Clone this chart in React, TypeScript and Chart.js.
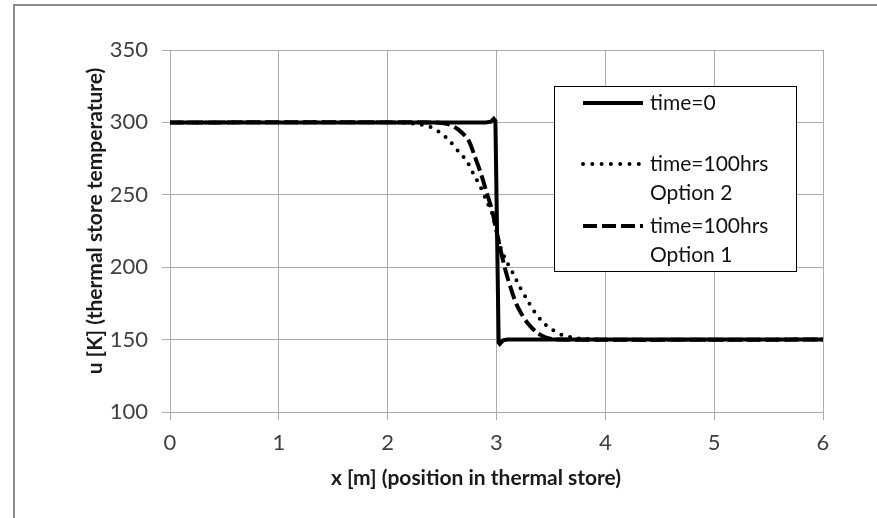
import React, { useEffect, useRef } from "react";
import { Chart, registerables } from "chart.js";

Chart.register(...registerables);

// time = 0 (initial step profile)
const X_T0 = [0, 2.9, 2.95, 2.975, 2.99, 3.02, 3.03, 3.06, 3.1, 6];
const U_T0 = [300, 300, 300.5, 302.5, 301, 148, 147, 149.5, 150, 150];

// time = 100 hrs, Option 2 (dotted)
const X_OPT2 = [0, 2.0, 2.2, 2.3, 2.39, 2.48, 2.56, 2.65, 2.73, 2.79, 2.85, 2.91, 2.96, 3.0, 3.04, 3.09, 3.15, 3.21, 3.27, 3.35, 3.44, 3.52, 3.61, 3.7, 3.8, 4.0, 6];
const U_OPT2 = [300, 300, 299.5, 298.5, 297, 293, 288, 280, 273, 264, 256, 245.6, 237, 225, 213, 204.4, 196, 187, 179, 169, 161, 156.5, 153, 151.5, 150.5, 150, 150];

// time = 100 hrs, Option 1 (dashed)
const X_OPT1 = [0, 2.4, 2.5, 2.57, 2.65, 2.74, 2.8, 2.865, 2.91, 2.957, 3.0, 3.04, 3.08, 3.125, 3.19, 3.28, 3.37, 3.45, 3.55, 6];
const U_OPT1 = [300, 300, 299.5, 298.4, 295, 288, 276.6, 262.8, 251.3, 240, 225, 211, 198.6, 187, 173.3, 162, 155, 151.5, 150, 150];

const X_TICKS = [0, 1, 2, 3, 4, 5, 6];
const Y_TICKS = [100, 150, 200, 250, 300, 350];

const LEGEND_LINES = [
  ["time=0"],
  ["time=100hrs", "Option 2"],
  ["time=100hrs", "Option 1"],
];

const X_TITLE = "x [m] (position in thermal store)";
const Y_TITLE = "u [K] (thermal store temperature)";

const FONT = "Lato, 'Liberation Sans', sans-serif";

const toPts = (xs: number[], ys: number[]) => xs.map((x, i) => ({ x, y: ys[i] }));

const decor = {
  id: "decor",
  afterDraw(chart: any) {
    const ctx = chart.ctx as CanvasRenderingContext2D;
    const ca = chart.chartArea;
    ctx.save();
    // axis titles
    ctx.fillStyle = "#1a1a1a";
    ctx.font = `bold 21px ${FONT}`;
    ctx.textAlign = "center";
    ctx.textBaseline = "middle";
    ctx.fillText(X_TITLE, ca.left + 306, ca.bottom + 66);
    ctx.save();
    ctx.translate(ca.left - 75, ca.top + 171);
    ctx.rotate(-Math.PI / 2);
    ctx.fillText(Y_TITLE, 0, 0);
    ctx.restore();

    // legend box
    const bx = ca.left + 384;
    const by = ca.top + 36;
    const bw = 242;
    const bh = 185;
    ctx.fillStyle = "#ffffff";
    ctx.fillRect(bx, by, bw, bh);
    ctx.strokeStyle = "#000000";
    ctx.lineWidth = 1;
    ctx.strokeRect(bx + 0.5, by + 0.5, bw, bh);

    const rows = [by + 17, by + 78, by + 140];
    const styles = [
      { dash: [] as number[], cap: "butt" as CanvasLineCap },
      { dash: [0, 9.3], cap: "round" as CanvasLineCap },
      { dash: [14, 5], cap: "butt" as CanvasLineCap },
    ];
    ctx.font = `21px ${FONT}`;
    ctx.textAlign = "left";
    ctx.textBaseline = "middle";
    rows.forEach((ry, i) => {
      ctx.save();
      ctx.strokeStyle = "#000";
      ctx.lineWidth = 4;
      ctx.setLineDash(styles[i].dash);
      ctx.lineCap = styles[i].cap;
      ctx.beginPath();
      ctx.moveTo(bx + 29, ry);
      ctx.lineTo(bx + 89, ry);
      ctx.stroke();
      ctx.restore();
      ctx.fillStyle = "#111";
      LEGEND_LINES[i].forEach((t, j) => {
        ctx.fillText(t, bx + 96, ry + j * 29);
      });
    });
    ctx.restore();
  },
};

export default function App() {
  const ref = useRef<HTMLCanvasElement>(null);
  useEffect(() => {
    document.body.style.margin = "0";
    const canvas = ref.current;
    if (!canvas) return;
    const grid = "#ababab";
    const chart = new Chart(canvas, {
      type: "scatter",
      data: {
        datasets: [
          {
            label: "time=0",
            data: toPts(X_T0, U_T0),
            showLine: true,
            borderColor: "#000",
            borderWidth: 4,
            pointRadius: 0,
            tension: 0,
          },
          {
            label: "time=100hrs Option 2",
            data: toPts(X_OPT2, U_OPT2),
            showLine: true,
            borderColor: "#000",
            borderWidth: 4,
            borderDash: [0, 9],
            borderCapStyle: "round",
            pointRadius: 0,
            tension: 0.3,
          },
          {
            label: "time=100hrs Option 1",
            data: toPts(X_OPT1, U_OPT1),
            showLine: true,
            borderColor: "#000",
            borderWidth: 4,
            borderDash: [14, 5],
            pointRadius: 0,
            tension: 0.3,
          },
        ],
      } as any,
      options: {
        responsive: false,
        animation: false,
        layout: { padding: { left: 70, right: 54, top: 50, bottom: 26 } },
        plugins: {
          legend: { display: false },
          tooltip: { enabled: false },
        },
        scales: {
          x: {
            type: "linear",
            min: 0,
            max: 6,
            afterBuildTicks: (s: any) => {
              s.ticks = X_TICKS.map((v) => ({ value: v }));
            },
            afterFit: (s: any) => {
              s.height = 80;
            },
            ticks: {
              font: { family: FONT, size: 22 },
              color: "#404040",
              padding: 10,
            },
            grid: { color: grid, lineWidth: 1, tickLength: 8 },
            border: { color: grid, width: 1 },
          },
          y: {
            type: "linear",
            min: 100,
            max: 350,
            afterBuildTicks: (s: any) => {
              s.ticks = Y_TICKS.map((v) => ({ value: v }));
            },
            afterFit: (s: any) => {
              s.width = 100;
            },
            ticks: {
              font: { family: FONT, size: 22 },
              color: "#404040",
              padding: 14,
            },
            grid: { color: grid, lineWidth: 1, tickLength: 8 },
            border: { color: grid, width: 1 },
          },
        },
      } as any,
      plugins: [decor],
    });
    return () => chart.destroy();
  }, []);

  return (
    <div style={{ position: "relative", width: 877, height: 518, background: "#fff", overflow: "hidden" }}>
      <div
        style={{
          position: "absolute",
          left: 13,
          top: 4,
          width: 900,
          height: 600,
          borderLeft: "2px solid #8c8c8c",
          borderTop: "2px solid #8c8c8c",
          boxSizing: "border-box",
        }}
      />
      <canvas ref={ref} width={877} height={518} style={{ position: "absolute", left: 0, top: 0 }} />
    </div>
  );
}
